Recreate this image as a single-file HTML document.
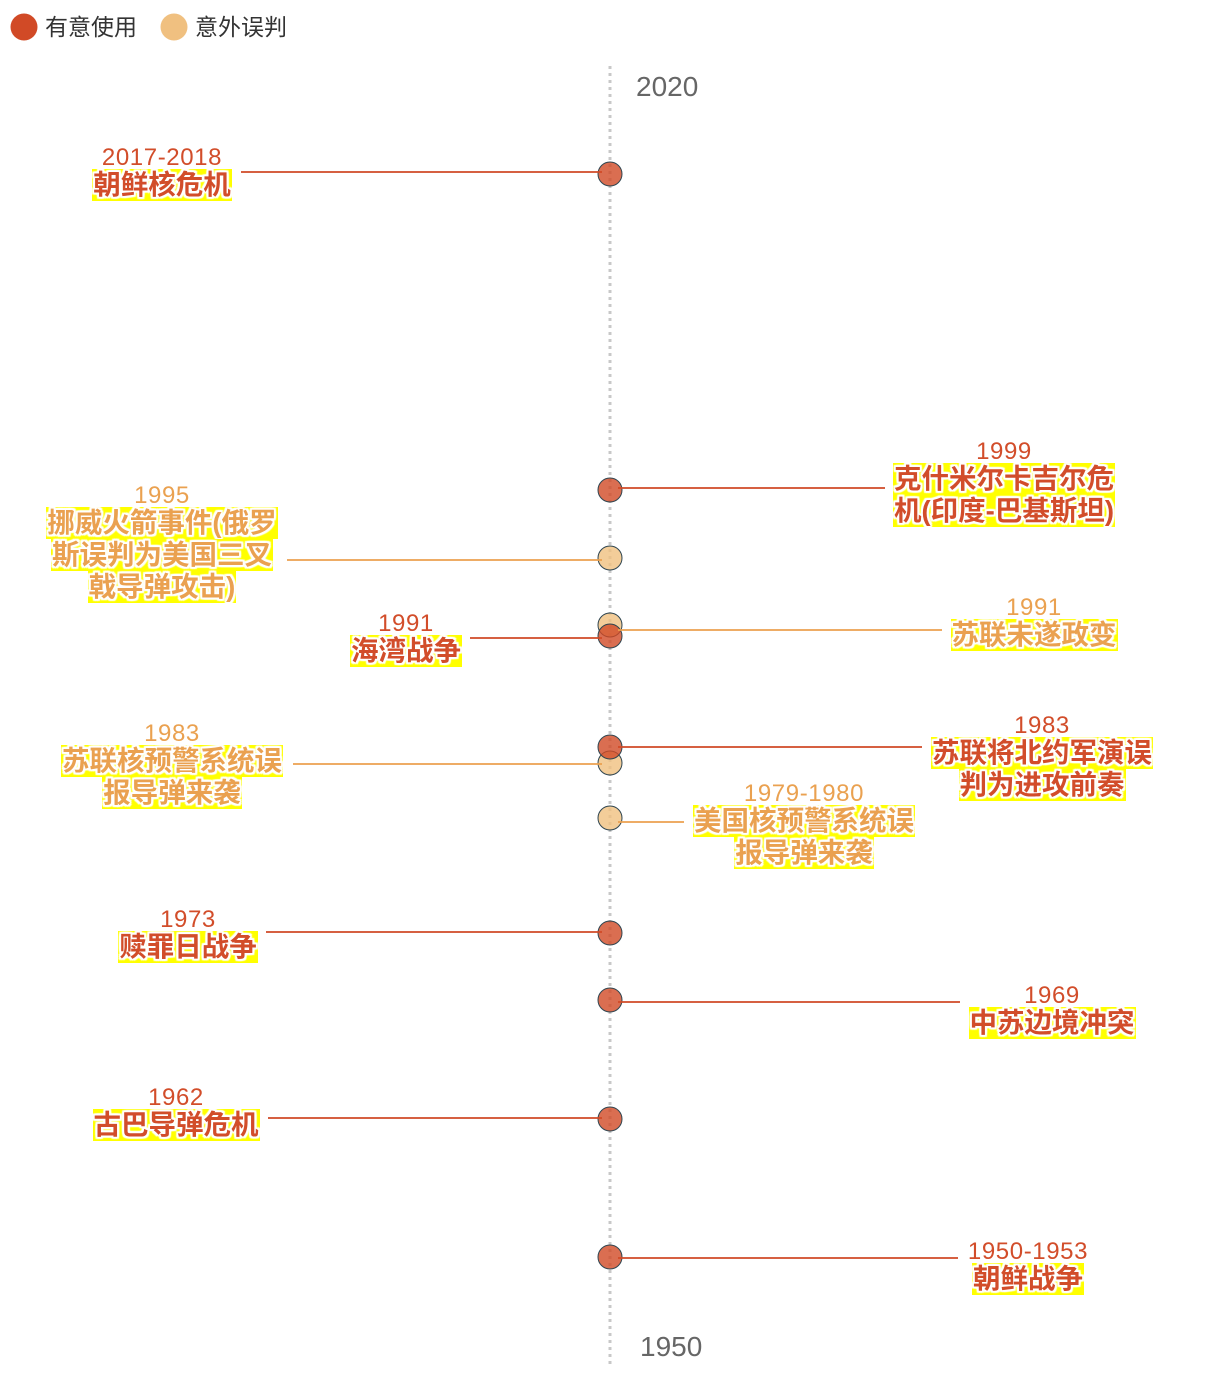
<!DOCTYPE html>
<html><head><meta charset="utf-8">
<style>
html,body{margin:0;padding:0;background:#fff;}
body{width:1220px;height:1376px;position:relative;overflow:hidden;font-family:"Liberation Sans","Noto Sans CJK SC",sans-serif;}
svg{position:absolute;left:0;top:0;}
.lab{position:absolute;width:340px;text-align:center;}
.yr{font-size:24px;line-height:22px;height:22px;white-space:nowrap;letter-spacing:0.6px;}
.n{height:32px;line-height:32px;white-space:nowrap;}
.n span{display:inline-block;vertical-align:top;height:32px;line-height:32px;background:#ffff00;font-size:27.5px;font-weight:bold;padding:0 1px;
text-shadow:0 0 2px #fff,0 0 2px #fff,1px 1px 1px #fff,-1px -1px 1px #fff,1px -1px 1px #fff,-1px 1px 1px #fff,2px 0 1px #fff,-2px 0 1px #fff,0 2px 1px #fff,0 -2px 1px #fff,2px 2px 1px #fff,-2px -2px 1px #fff,2px -2px 1px #fff,-2px 2px 1px #fff;}
.r{color:#d24d2a;}
.o{color:#eaa150;}
.leg{position:absolute;font-size:23px;color:#333;line-height:28px;top:13px;}
.ax{position:absolute;font-size:28px;color:#666;line-height:32px;}
</style></head><body>
<svg width="1220" height="1376" viewBox="0 0 1220 1376">
  <circle cx="24" cy="27" r="13.5" fill="#d14a26"/>
  <circle cx="174" cy="27" r="13.5" fill="#f0c080"/>
  <line x1="610" y1="66" x2="610" y2="1366" stroke="#c8c8c8" stroke-width="3" stroke-dasharray="3 4"/>
  <g stroke="#2f4550" stroke-width="1">
    <circle cx="610" cy="174" r="12" fill="#d14a26" fill-opacity="0.8"/>
    <circle cx="610" cy="490" r="12" fill="#d14a26" fill-opacity="0.8"/>
    <circle cx="610" cy="558" r="12" fill="#f0c080" fill-opacity="0.8"/>
    <circle cx="610" cy="625" r="12" fill="#f0c080" fill-opacity="0.8"/>
    <circle cx="610" cy="636" r="12" fill="#d14a26" fill-opacity="0.8"/>
    <circle cx="610" cy="763" r="12" fill="#f0c080" fill-opacity="0.8"/>
    <circle cx="610" cy="747" r="12" fill="#d14a26" fill-opacity="0.8"/>
    <circle cx="610" cy="818" r="12" fill="#f0c080" fill-opacity="0.8"/>
    <circle cx="610" cy="933" r="12" fill="#d14a26" fill-opacity="0.8"/>
    <circle cx="610" cy="1000" r="12" fill="#d14a26" fill-opacity="0.8"/>
    <circle cx="610" cy="1119" r="12" fill="#d14a26" fill-opacity="0.8"/>
    <circle cx="610" cy="1257" r="12" fill="#d14a26" fill-opacity="0.8"/>
  </g>
  <g stroke-width="1.8" fill="none">
    <line x1="241" y1="172" x2="602" y2="172" stroke="#d14a26"/>
    <line x1="618" y1="488" x2="885" y2="488" stroke="#d14a26"/>
    <line x1="287" y1="560" x2="602" y2="560" stroke="#eba04f"/>
    <line x1="618" y1="630" x2="942" y2="630" stroke="#eba04f"/>
    <line x1="470" y1="638" x2="602" y2="638" stroke="#d14a26"/>
    <line x1="618" y1="747" x2="922" y2="747" stroke="#d14a26"/>
    <line x1="293" y1="764" x2="602" y2="764" stroke="#eba04f"/>
    <line x1="618" y1="822" x2="684" y2="822" stroke="#eba04f"/>
    <line x1="266" y1="932" x2="602" y2="932" stroke="#d14a26"/>
    <line x1="618" y1="1002" x2="960" y2="1002" stroke="#d14a26"/>
    <line x1="268" y1="1118" x2="602" y2="1118" stroke="#d14a26"/>
    <line x1="618" y1="1258" x2="958" y2="1258" stroke="#d14a26"/>
  </g>
</svg>

<div class="leg" style="left:45px;">有意使用</div>
<div class="leg" style="left:195px;">意外误判</div>

<div class="ax" style="left:636px;top:71px;">2020</div>
<div class="ax" style="left:640px;top:1331px;">1950</div>

<div class="lab r" style="left:-8px;top:147px;"><div class="yr">2017-2018</div><div class="n"><span>朝鲜核危机</span></div></div>

<div class="lab r" style="left:834px;top:441px;"><div class="yr">1999</div><div class="n"><span>克什米尔卡吉尔危</span></div><div class="n"><span>机(印度-巴基斯坦)</span></div></div>

<div class="lab o" style="left:-8px;top:485px;"><div class="yr">1995</div><div class="n"><span>挪威火箭事件(俄罗</span></div><div class="n"><span>斯误判为美国三叉</span></div><div class="n"><span>戟导弹攻击)</span></div></div>

<div class="lab o" style="left:864px;top:597px;"><div class="yr">1991</div><div class="n"><span>苏联未遂政变</span></div></div>

<div class="lab r" style="left:236px;top:613px;"><div class="yr">1991</div><div class="n"><span>海湾战争</span></div></div>

<div class="lab r" style="left:872px;top:715px;"><div class="yr">1983</div><div class="n"><span>苏联将北约军演误</span></div><div class="n"><span>判为进攻前奏</span></div></div>

<div class="lab o" style="left:2px;top:723px;"><div class="yr">1983</div><div class="n"><span>苏联核预警系统误</span></div><div class="n"><span>报导弹来袭</span></div></div>

<div class="lab o" style="left:634px;top:783px;"><div class="yr">1979-1980</div><div class="n"><span>美国核预警系统误</span></div><div class="n"><span>报导弹来袭</span></div></div>

<div class="lab r" style="left:18px;top:909px;"><div class="yr">1973</div><div class="n"><span>赎罪日战争</span></div></div>

<div class="lab r" style="left:882px;top:985px;"><div class="yr">1969</div><div class="n"><span>中苏边境冲突</span></div></div>

<div class="lab r" style="left:6px;top:1087px;"><div class="yr">1962</div><div class="n"><span>古巴导弹危机</span></div></div>

<div class="lab r" style="left:858px;top:1241px;"><div class="yr">1950-1953</div><div class="n"><span>朝鲜战争</span></div></div>

</body></html>
